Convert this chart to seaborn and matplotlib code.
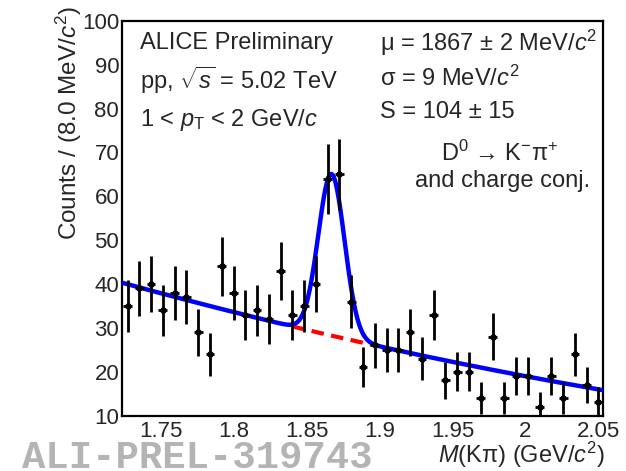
import numpy as np
import pandas as pd
import matplotlib
matplotlib.use("Agg")
import matplotlib.pyplot as plt
from matplotlib.ticker import MultipleLocator, AutoMinorLocator
import seaborn as sns

# ---------------- data ----------------
bin_first = 1.7271
bin_last = 2.0502
counts = [35, 39, 40, 34, 38, 37, 29, 24, 44, 38, 33, 34, 32, 43, 33, 35, 40, 64, 65, 36,
          21, 26, 25, 25, 29, 23, 33, 18, 20, 20, 14, 28, 14, 19, 19, 12, 19, 14, 24, 17, 13]
mass = np.linspace(bin_first, bin_last, len(counts))
errors = np.sqrt(np.array(counts, dtype=float))

# fit parameters
MU = 1.867
SIGMA = 0.009
SIGNAL = 104
BIN_W = 0.008
BKG_X0 = 1.87
BKG_C = [28.0, -76.2, 52.0]

xmin, xmax = 1.7233, 2.0533
ymin, ymax = 10, 100

def bkg(x):
    u = x - BKG_X0
    return BKG_C[0] + BKG_C[1] * u + BKG_C[2] * u ** 2

def total(x):
    amp = SIGNAL * BIN_W / (SIGMA * np.sqrt(2 * np.pi))
    return bkg(x) + amp * np.exp(-0.5 * ((x - MU) / SIGMA) ** 2)

xf = np.linspace(xmin, xmax, 600)
fit_df = pd.DataFrame({"x": xf, "y": total(xf)})
xb = np.linspace(MU - 3 * SIGMA, MU + 3 * SIGMA, 100)
bkg_df = pd.DataFrame({"x": xb, "y": bkg(xb)})
pts = pd.DataFrame({"x": mass, "y": counts})

# ---------------- style ----------------
sns.set_theme(style="white")
plt.rcParams["font.family"] = ["Liberation Sans", "DejaVu Sans"]
plt.rcParams["mathtext.fontset"] = "custom"
plt.rcParams["mathtext.rm"] = "Liberation Sans"
plt.rcParams["mathtext.it"] = "Liberation Sans:italic"
plt.rcParams["mathtext.bf"] = "Liberation Sans:bold"

fig = plt.figure(figsize=(6.26, 4.71), dpi=100)
ax = fig.add_axes([122 / 626, 1 - 415.5 / 471, (603 - 122) / 626, (415.5 - 21) / 471])

sns.lineplot(data=bkg_df, x="x", y="y", ax=ax, color="#ff0000", lw=3.0,
             linestyle=(0, (3.0, 1.8)), zorder=2)
sns.lineplot(data=fit_df, x="x", y="y", ax=ax, color="#0000ff", lw=3.2, zorder=3)
ax.errorbar(mass, counts, yerr=errors, xerr=0.003, fmt="none", ecolor="black",
            elinewidth=2.0, capsize=0, zorder=4)
sns.scatterplot(data=pts, x="x", y="y", ax=ax, color="black", s=22, marker="o",
                edgecolor="black", linewidth=0, zorder=5)

ax.set_xlim(xmin, xmax)
ax.set_ylim(ymin, ymax)
ax.xaxis.set_minor_locator(MultipleLocator(0.01))
ax.yaxis.set_major_locator(MultipleLocator(10))
ax.yaxis.set_minor_locator(AutoMinorLocator(7))
ax.set_xticks([1.75, 1.8, 1.85, 1.9, 1.95, 2.0, 2.05])
ax.set_xticklabels(["1.75", "1.8", "1.85", "1.9", "1.95", "2", "2.05"])
ax.tick_params(axis="both", which="both", direction="in", top=False, right=False,
               labelsize=16, color="black", width=1.3)
ax.tick_params(axis="x", which="major", length=10, pad=4)
ax.tick_params(axis="x", which="minor", length=5)
ax.tick_params(axis="y", which="major", length=12, pad=2)
ax.tick_params(axis="y", which="minor", length=6)
for sp in ax.spines.values():
    sp.set_visible(True)
    sp.set_color("black")
    sp.set_linewidth(1.6)

ax.set_xlabel("")
ax.set_ylabel("")
fig.text(69 / 626, 1 - 6 / 471, r"Counts / (8.0 MeV/$c^{2}$)", rotation=90,
         ha="center", va="top", fontsize=17.5)
fig.text(605 / 626, 1 - 455 / 471, r"$M$(Kπ) (GeV/$c^{2}$)", ha="right",
         va="center", fontsize=17)

fs = 17
fig.text(140 / 626, 1 - 43 / 471, "ALICE Preliminary", ha="left", va="center", fontsize=fs)
fig.text(140 / 626, 1 - 80 / 471, r"pp, $\sqrt{s}$ = 5.02 TeV", ha="left", va="center", fontsize=fs)
fig.text(140 / 626, 1 - 120 / 471, r"1 < $p_{\rm T}$ < 2 GeV/$c$", ha="left", va="center", fontsize=fs)
fig.text(380 / 626, 1 - 43 / 471, r"μ = 1867 ± 2 MeV/$c^{2}$", ha="left", va="center", fontsize=fs)
fig.text(380 / 626, 1 - 78 / 471, r"σ = 9 MeV/$c^{2}$", ha="left", va="center", fontsize=fs)
fig.text(380 / 626, 1 - 112 / 471, "S = 104 ± 15", ha="left", va="center", fontsize=fs)
fig.text(500 / 626, 1 - 153 / 471, r"D$^{0}$ → K$^{-}$π$^{+}$", ha="center", va="center", fontsize=fs)
fig.text(503 / 626, 1 - 181 / 471, "and charge conj.", ha="center", va="center", fontsize=fs)

fig.text(22 / 626, 1 - 458 / 471, "ALI-PREL-319743", ha="left", va="center",
         fontsize=28, color="#b4b4b4", family=["Liberation Mono", "DejaVu Sans Mono"],
         fontweight="bold")

fig.savefig("out.png", dpi=100)
